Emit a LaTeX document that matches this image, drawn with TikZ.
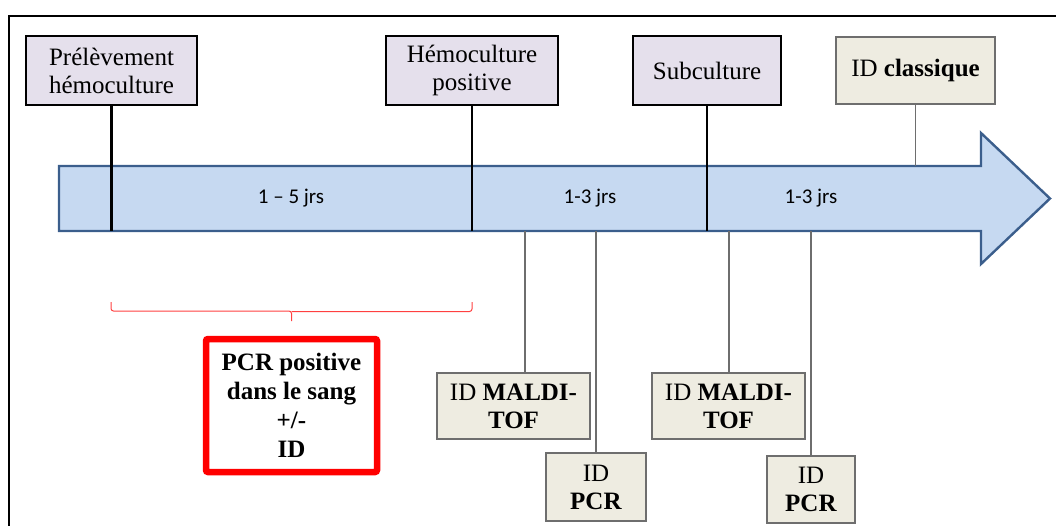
\documentclass[tikz,border=0pt]{standalone}
\usepackage{fontspec}
\setmainfont{Liberation Serif}
\newfontfamily\tms{Liberation Serif}
\newfontfamily\calib{Carlito}
\definecolor{lav}{HTML}{E5E0EC}
\definecolor{beige}{HTML}{EEECE1}
\definecolor{arrfill}{HTML}{C6D9F1}
\definecolor{arrdraw}{HTML}{3B5E8C}
\definecolor{gline}{HTML}{6E6E6E}
\begin{document}
\begin{tikzpicture}[x=1pt,y=-1pt,
  boxtext/.style={inner sep=0pt, align=center, font=\tms\fontsize{25}{28}\selectfont},
  purplebox/.style={boxtext, draw=black, line width=2.2pt, fill=lav},
  beigebox/.style={boxtext, draw=gline, line width=1.3pt, fill=beige},
  redbox/.style={boxtext, draw=red, line width=6.5pt, rounded corners=2pt, fill=white, font=\tms\fontsize{25}{29}\selectfont\bfseries},
  blk/.style={draw=black, line width=2.4pt},
  gl/.style={draw=gline, line width=1.3pt},
  dur/.style={font=\calib\fontsize{21}{24}\selectfont, inner sep=0pt}]
\useasboundingbox (0,0) rectangle (1056,525);
% frame
\draw[line width=1.6pt] (9,526) -- (9,16) -- (1057,16);
% arrow
\draw[fill=arrfill, draw=arrdraw, line width=2.4pt, line join=miter]
  (59,166) -- (981,166) -- (981,133) -- (1050,198.5) -- (981,264) -- (981,231) -- (59,231) -- cycle;
\coordinate (atop) at (0,166);
\coordinate (abot) at (0,231);
% top boxes
\node[purplebox, minimum width=171pt, minimum height=69pt] (prel) at (111.5,70.5) {Prélèvement\\hémoculture};
\node[purplebox, minimum width=172pt, minimum height=69pt] (hemo) at (472,70.5) {Hémoculture\\positive};
\node[purplebox, minimum width=148pt, minimum height=69pt] (sub) at (707,70.5) {Subculture};
\node[beigebox, minimum width=159pt, minimum height=67pt] (clas) at (915.5,70.5) {ID \textbf{classique}};
% timeline ticks
\draw[blk] (prel.south) -- (prel.south |- abot);
\draw[blk] (hemo.south) -- (hemo.south |- abot);
\draw[blk] (sub.south) -- (sub.south |- abot);
\draw[gl] (clas.south) -- (clas.south |- atop);
% durations
\node[dur] (d1) at (291,198.5) {1 – 5 jrs};
\node[dur] (d2) at (590,198.5) {1-3 jrs};
\node[dur] (d3) at (811,198.5) {1-3 jrs};
% bottom boxes
\node[beigebox, minimum width=153pt, minimum height=66pt] (m1) at (513.5,406) {ID \textbf{MALDI-}\\\textbf{TOF}};
\node[beigebox, minimum width=153pt, minimum height=66pt] (m2) at (728.5,406) {ID \textbf{MALDI-}\\\textbf{TOF}};
\node[beigebox, minimum width=100pt, minimum height=68pt] (p1) at (596,487) {ID\\\textbf{PCR}};
\node[beigebox, minimum width=88pt, minimum height=67pt] (p2) at (811,489.5) {ID\\\textbf{PCR}};
\coordinate (t1) at (525,231);
\coordinate (t2) at (729,231);
\draw[gl] (t1) -- (t1 |- m1.north);
\draw[gl] (p1.north |- abot) -- (p1.north);
\draw[gl] (t2) -- (t2 |- m2.north);
\draw[gl] (p2.north |- abot) -- (p2.north);
% bracket
\coordinate (bl) at (111,302);
\coordinate (br) at (472,302);
\coordinate (bm) at (291.5,321);
\draw[red!75!white, line width=1pt, rounded corners=2.5pt] (bl) |- (bm |- 0,311) -- (bm);
\draw[red!75!white, line width=1pt, rounded corners=2.5pt] (bm |- 0,311.5) -| (br);
% red box
\node[redbox, minimum width=171pt, minimum height=133pt] (pcr) at (291.5,405.5) {PCR positive\\dans le sang\\+/-\\ID};
\end{tikzpicture}
\end{document}
